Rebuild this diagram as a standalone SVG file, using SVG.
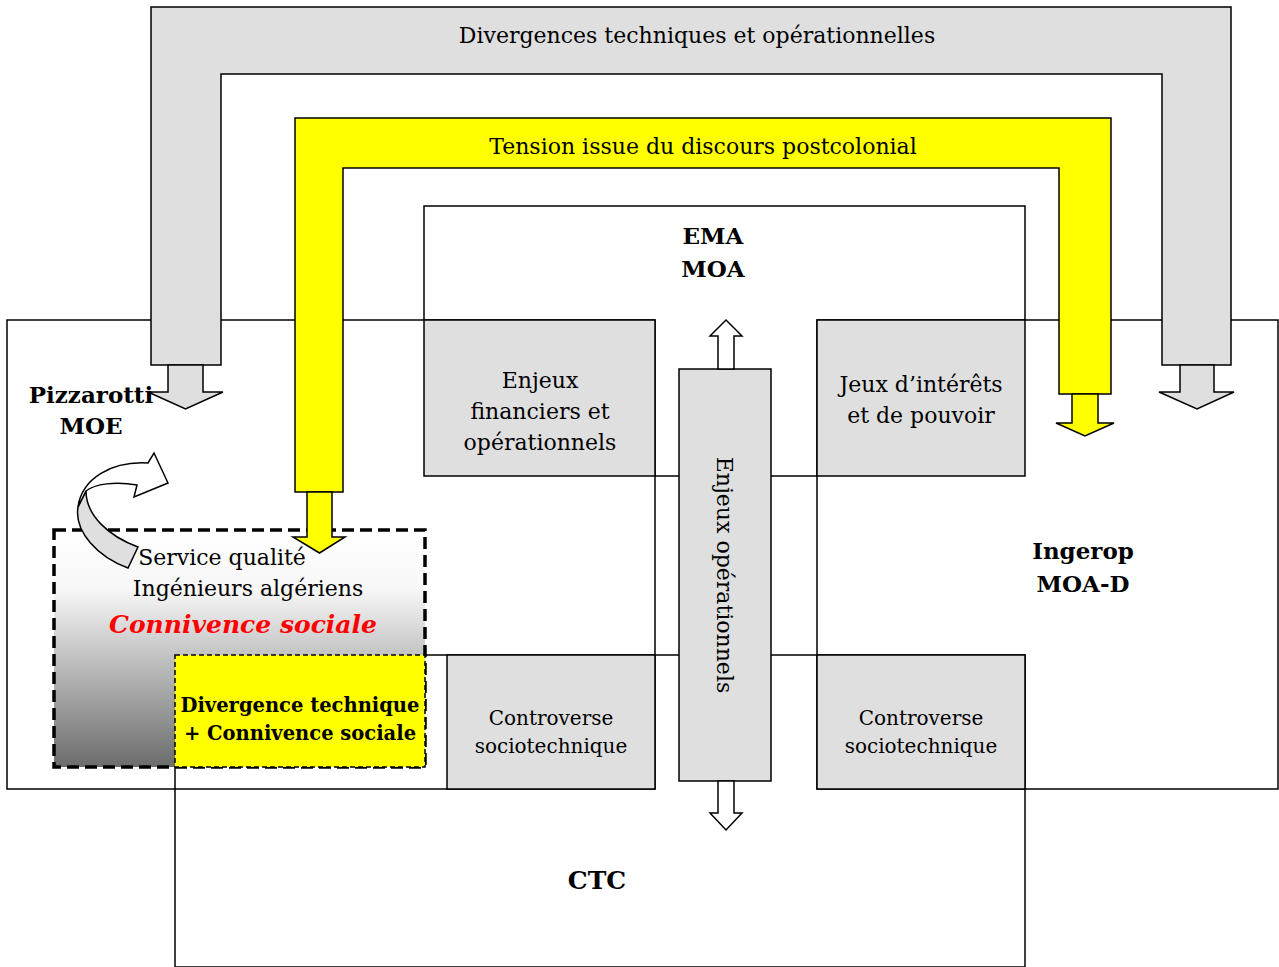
<svg xmlns="http://www.w3.org/2000/svg" width="1279" height="967" viewBox="0 0 1279 967">
<style>
.box{fill:#ffffff;stroke:#000;stroke-width:1.5}
.frame{fill:none;stroke:#000;stroke-width:1.5}
.grey{fill:#dfdfdf;stroke:#000;stroke-width:1.5}
.yel{fill:#ffff00;stroke:#000;stroke-width:1.5}
.wa{fill:#ffffff;stroke:#000;stroke-width:1.5}
.t{font-family:"DejaVu Serif","Liberation Serif",serif;font-size:22px;fill:#000;text-anchor:middle}
.s{font-size:20px}
.b{font-weight:bold;font-size:23px}
</style>
<defs>
<linearGradient id="gr" x1="0" y1="0" x2="0" y2="1">
<stop offset="0" stop-color="#ffffff"/>
<stop offset="0.25" stop-color="#f7f7f7"/>
<stop offset="1" stop-color="#6c6c6c"/>
</linearGradient>
</defs>
<rect width="1279" height="967" fill="#fff"/>

<g id="ema"><rect class="box" x="424" y="206" width="601" height="270"/>
<text class="t b" x="713" y="244">EMA</text><text class="t b" x="713" y="277">MOA</text></g>
<g id="pizzarotti"><rect class="box" x="7" y="320" width="648" height="469"/></g>
<g id="ingerop"><rect class="box" x="817" y="320" width="461" height="469"/>
<text class="t b" x="1083" y="559">Ingerop</text><text class="t b" x="1083" y="592">MOA-D</text></g>
<g id="ctc"><rect class="frame" x="175" y="655" width="850" height="312"/>
<text class="t b" x="597" y="889" style="font-size:25px">CTC</text></g>

<g id="enjeux-fin"><rect class="grey" x="424" y="320" width="231" height="156"/>
<text class="t" x="540" y="388">Enjeux</text><text class="t" x="540" y="419">financiers et</text><text class="t" x="540" y="450">opérationnels</text></g>
<g id="jeux"><rect class="grey" x="817" y="320" width="208" height="156"/>
<text class="t" x="921" y="392">Jeux d’intérêts</text><text class="t" x="921" y="423">et de pouvoir</text></g>
<g id="contro-left"><rect class="grey" x="447" y="655" width="208" height="134"/>
<text class="t s" x="551" y="725">Controverse</text><text class="t s" x="551" y="753">sociotechnique</text></g>
<g id="contro-right"><rect class="grey" x="817" y="655" width="208" height="134"/>
<text class="t s" x="921" y="725">Controverse</text><text class="t s" x="921" y="753">sociotechnique</text></g>
<g id="enjeux-op"><rect class="grey" x="679" y="369" width="92" height="412"/>
<text class="t" transform="translate(717,575) rotate(90)" x="0" y="0">Enjeux opérationnels</text></g>

<g id="service-qualite">
<rect x="54" y="530" width="371" height="237" fill="url(#gr)" stroke="#000" stroke-width="3.5" stroke-dasharray="12 6"/>
<rect x="175" y="655" width="250" height="112" fill="#ffff00" stroke="#000" stroke-width="1.5" stroke-dasharray="5 3"/>
<text class="t" x="222" y="565">Service qualité</text>
<text class="t" x="248" y="596">Ingénieurs algériens</text>
<text class="t" x="243" y="633" style="font-size:25px;font-weight:bold;font-style:italic;fill:#ff0000">Connivence sociale</text>
<text class="t" x="300" y="712" style="font-size:19.5px;font-weight:bold">Divergence technique</text>
<text class="t" x="300" y="740" style="font-size:19.5px;font-weight:bold">+ Connivence sociale</text>
</g>

<g id="connectors">
<path class="grey" d="M151,7 H1231 V365 H1162 V74 H221 V365 H151 Z"/>
<polygon class="grey" points="168,365 203,365 203,392 223,392 185.5,409 148,392 168,392"/>
<polygon class="grey" points="1180,365 1214,365 1214,392 1234,392 1197,409 1159,392 1180,392"/>
<path class="yel" d="M295,118 H1111 V394 H1059 V168 H343 V492 H295 Z"/>
<polygon class="yel" points="307,492 332,492 332,537 345,537 319.5,553 293,537 307,537"/>
<polygon class="yel" points="1072,394 1098,394 1098,423 1114,423 1085,436 1056,423 1072,423"/>
<polygon class="wa" points="718,369 734,369 734,336 742,336 726,320 710,336 718,336"/>
<polygon class="wa" points="718,781 734,781 734,813 742,813 726,830 710,813 718,813"/>
<path class="grey" d="M86,491 C86,515 108,536 138,547 L128,568 C98,557 74,532 78,507 Z"/>
<path class="wa" d="M78,507 C82,478 112,461 148,463 L154,453 L168,483 L134,497 L137,485 C115,481 95,484 86,491 Z"/>
</g>

<g id="labels">
<text class="t" x="697" y="43">Divergences techniques et opérationnelles</text>
<text class="t" x="703" y="154">Tension issue du discours postcolonial</text>
<text class="t b" x="91" y="403">Pizzarotti</text>
<text class="t b" x="91" y="434">MOE</text>
</g>
</svg>
